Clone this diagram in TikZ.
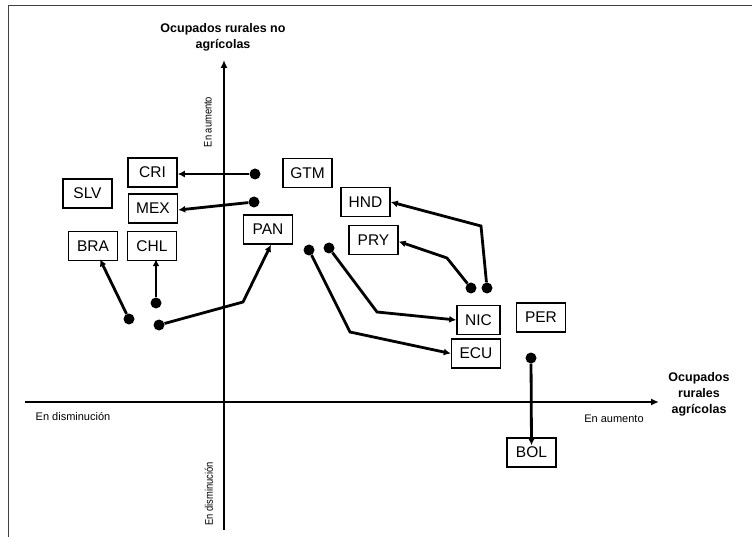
\documentclass[tikz,border=0pt]{standalone}
\usepackage{fontspec}
\setmainfont{Liberation Sans}
\newfontfamily\narrowsans{Liberation Sans}[FakeStretch=0.85]
\usetikzlibrary{arrows.meta}

\begin{document}
\begin{tikzpicture}[x=1pt,y=-1pt,
                box/.style={draw,line width=1.5pt,minimum width=49pt,minimum height=29pt,inner sep=0pt,
                    font=\fontsize{15.5}{17}\selectfont},
                dot/.style={circle,fill,inner sep=0pt,minimum size=11pt},
                link/.style={line width=2.8pt,-{Latex[length=7pt,width=7pt]}},
                axis/.style={line width=2.5pt,-{Latex[length=8pt,width=7pt]}},
                small/.style={font=\fontsize{11}{13}\selectfont},
                tiny/.style={font=\narrowsans\fontsize{11}{13}\selectfont,rotate=90},
                title/.style={font=\fontsize{12.5}{16}\selectfont\bfseries,align=center}]
                \useasboundingbox (0,0) rectangle (752,537);
                % frame
                \draw[black!75,line width=1pt]
                    (8,537) -- (8,6) -- (752,6);
                % axes
                \coordinate (ybot) at (224,530);
                \coordinate (ytop) at (224,60);
                \coordinate (xleft) at (25,402);
                \coordinate (xright) at (659,402);
                \draw[axis] (ybot) -- (ytop);
                \draw[axis] (xleft) -- (xright);
                \node[title] (ytitle) at (223,37.5) {Ocupados rurales no\\agrícolas};
                \node[title] (xtitle) at (699,394) {Ocupados\\rurales\\agrícolas};
                \node[small] (xup) at (614,419) {En aumento};
                \node[small] (xdown) at (73,417) {En disminución};
                \node[tiny] (yup) at (208,122) {En aumento};
                \node[tiny] (ydown) at (209,494) {En disminución};
                % countries
                \node[box] (CRI) at (152.5,172.5) {CRI};
                \node[box] (GTM) at (307.5,173) {GTM};
                \node[box] (SLV) at (87.5,193.5) {SLV};
                \node[box] (MEX) at (153,208.5) {MEX};
                \node[box] (HND) at (365.5,202) {HND};
                \node[box] (PRY) at (373.5,240) {PRY};
                \node[box] (PAN) at (268,229.5) {PAN};
                \node[box] (BRA) at (93,246) {BRA};
                \node[box] (CHL) at (152,246) {CHL};
                \node[box,minimum width=43pt] (NIC) at (478.5,320) {NIC};
                \node[box] (ECU) at (476,353.5) {ECU};
                \node[box] (PER) at (541,317.5) {PER};
                \node[box] (BOL) at (531.5,452.5) {BOL};
                % starting points
                \node[dot] (dCRI) at (255,174) {};
                \node[dot] (dMEX) at (254,202) {};
                \node[dot] (dBRA) at (129,319) {};
                \node[dot] (dCHL) at (156,303) {};
                \node[dot] (dPAN) at (159,325) {};
                \node[dot] (dECU) at (309,250) {};
                \node[dot] (dNIC) at (329,248) {};
                \node[dot] (dPRY) at (471,288) {};
                \node[dot] (dHND) at (487,288) {};
                \node[dot] (dBOL) at (531,358) {};
                % changes
                \draw[link] (dCRI) -- (CRI.east |- dCRI);
                \draw[link] (dMEX) -- ([yshift=-1.5pt]MEX.east);
                \draw[link] (dBRA) -- ([xshift=7pt,yshift=2pt]BRA.south);
                \draw[link] (dCHL) -- ([xshift=4pt,yshift=2pt]CHL.south);
                \draw[link] (dPAN) -- (243,302) -- ([xshift=3pt]PAN.south);
                \draw[link] (dNIC) -- (377,312) -- (NIC.west);
                \draw[link] (dECU) -- (350,332) -- (ECU.west);
                \draw[link] (dPRY) -- (447,258) -- ([yshift=-1.5pt]PRY.east);
                \draw[link] (dHND) -- (481,226) -- (HND.east);
                \draw[link] (dBOL) -- ([yshift=-8pt]BOL.north);
            \end{tikzpicture}
\end{document}
